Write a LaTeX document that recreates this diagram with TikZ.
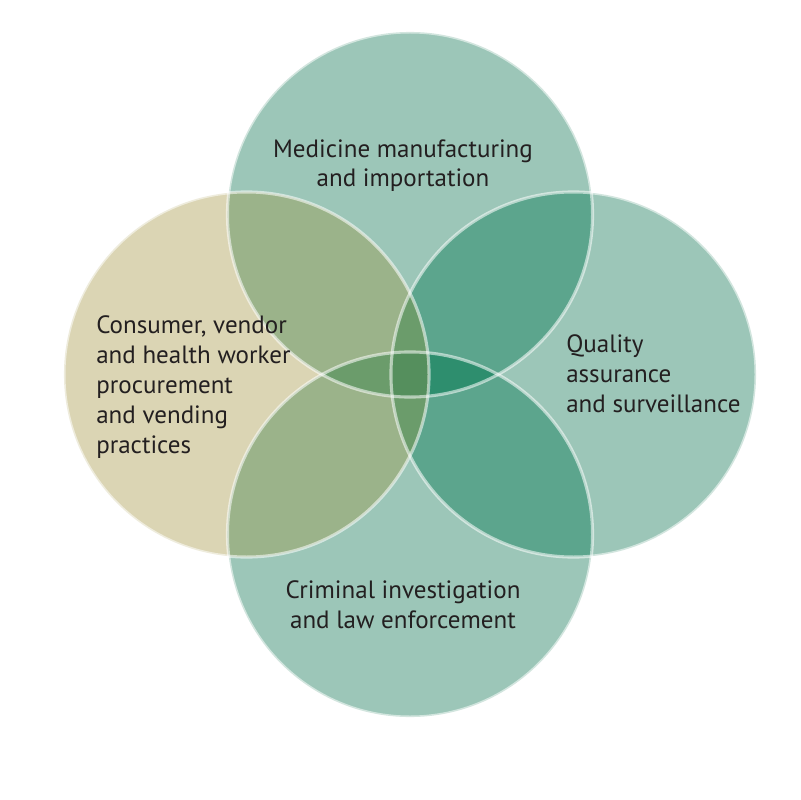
\documentclass[tikz,border=0pt]{standalone}
\usepackage{fontspec}
\setmainfont{PT Sans}
\definecolor{tealA}{HTML}{9CC6B8}
\definecolor{sandA}{HTML}{DBD5B4}
\definecolor{oliveA}{HTML}{9BB38A}
\definecolor{tealB}{HTML}{5CA58D}
\definecolor{oliveB}{HTML}{6B9C6B}
\definecolor{tealC}{HTML}{2E8E6E}
\definecolor{greenD}{HTML}{558F5D}
\definecolor{ink}{HTML}{231F20}
\tikzset{
  lbl/.style={font=\fontsize{17.8}{21.3}\selectfont, text=ink, inner sep=0pt},
  rim/.style={draw=white, draw opacity=0.55, line width=2.2pt}
}
\def\rad{4.5625cm}
\begin{document}
\begin{tikzpicture}[x=0.025cm,y=-0.025cm]
        \useasboundingbox (0,0) rectangle (800,800);
        \coordinate (ctop) at (410,214.5);
        \coordinate (cleft) at (246.5,374.5);
        \coordinate (cright) at (573.5,374.5);
        \coordinate (cbot) at (410,534.5);

        \fill[tealA] (ctop) circle[radius=\rad];
        \fill[sandA] (cleft) circle[radius=\rad];
        \fill[tealA] (cright) circle[radius=\rad];
        \fill[tealA] (cbot) circle[radius=\rad];

        \begin{scope}
            \clip (cleft) circle[radius=\rad];
            \fill[oliveA] (ctop) circle[radius=\rad];
            \fill[oliveA] (cbot) circle[radius=\rad];
        \end{scope}
        \begin{scope}
            \clip (cright) circle[radius=\rad];
            \fill[tealB] (ctop) circle[radius=\rad];
            \fill[tealB] (cbot) circle[radius=\rad];
        \end{scope}
        \begin{scope}
            \clip (cleft) circle[radius=\rad];
            \fill[oliveB] (cright) circle[radius=\rad];
        \end{scope}
        \begin{scope}
            \clip (ctop) circle[radius=\rad];
            \clip (cbot) circle[radius=\rad];
            \fill[tealC] (cright) circle[radius=\rad];
            \fill[oliveB] (cleft) circle[radius=\rad];
            \clip (cleft) circle[radius=\rad];
            \fill[greenD] (cright) circle[radius=\rad];
        \end{scope}

        \draw[rim] (ctop) circle[radius=\rad];
        \draw[rim] (cleft) circle[radius=\rad];
        \draw[rim] (cright) circle[radius=\rad];
        \draw[rim] (cbot) circle[radius=\rad];

        \node[lbl, align=center, anchor=base] at (403,187) (making) {Medicine manufacturing\\and importation};
        \node[lbl, align=left, anchor=base west] at (96,453) (buying) {Consumer, vendor\\and health worker\\procurement\\and vending\\practices};
        \node[lbl, align=left, anchor=base west] at (566,412) (quality) {Quality\\assurance\\and surveillance};
        \node[lbl, align=center, anchor=base] at (403,628) (police) {Criminal investigation\\and law enforcement};

    \end{tikzpicture}
\end{document}
